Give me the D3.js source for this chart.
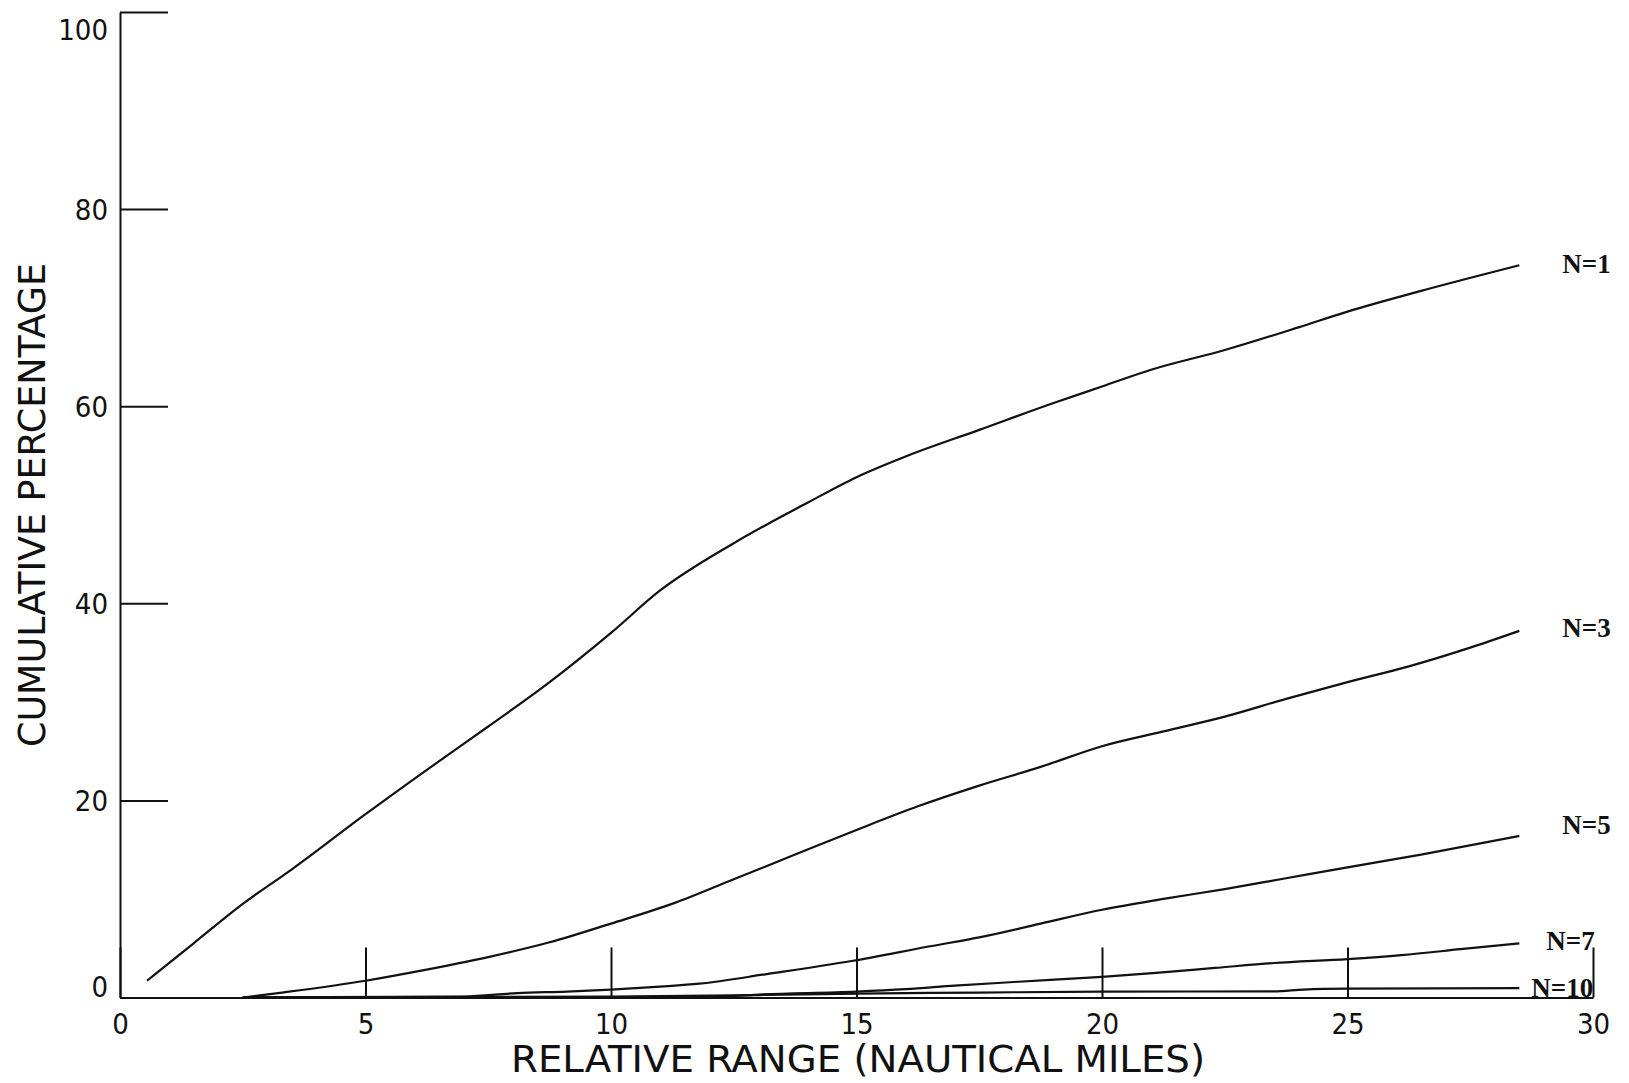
<!DOCTYPE html>
<html>
<head>
<meta charset="utf-8">
<script src="https://cdn.jsdelivr.net/npm/d3@7"></script>
<style>
  html, body { margin: 0; padding: 0; background: #fff; }
  svg { display: block; }
</style>
</head>
<body>
<svg id="chart" width="1629" height="1083"></svg>
<script>
// ---- data ----
const xTickValues = [0, 5, 10, 15, 20, 25, 30];
const yTickValues = [0, 20, 40, 60, 80, 100];
const seriesNames = ["N=1", "N=3", "N=5", "N=7", "N=10"];

const n1 = [[0.55,1.7],[1.5,5.5],[2.5,9.5],[3.5,13.0],[5,18.6],[6.25,23.1],[7.5,27.5],[8.75,32.0],[10,37.0],[11,41.3],[12.5,46.1],[14,50.2],[15,52.8],[16,54.9],[17.5,57.6],[19,60.3],[20,62.0],[21,63.7],[22.5,65.7],[24,68.0],[25,69.6],[26.5,71.7],[28.5,74.3]];
const n3 = [[2.5,0],[3.3,0.5],[5,1.7],[6,2.6],[7.5,4.1],[8.75,5.6],[10,7.5],[11.3,9.6],[12.5,12.0],[13.75,14.5],[15,17.0],[16.25,19.4],[17.5,21.5],[18.75,23.4],[20,25.5],[21.25,27.0],[22.5,28.5],[23.75,30.3],[25,32.0],[26.25,33.6],[27.5,35.5],[28.5,37.2]];
const n5 = [[2.5,0],[7.0,0.1],[8.1,0.45],[9.1,0.6],[10,0.8],[11,1.1],[11.8,1.4],[13.2,2.4],[14.9,3.7],[16.5,5.2],[17.5,6.1],[18.75,7.5],[20,8.9],[21.25,10.0],[22.5,11.0],[23.75,12.1],[25,13.2],[26.5,14.5],[28.5,16.4]];
const n7 = [[2.5,0],[12,0.05],[13,0.3],[15,0.6],[16,0.85],[17,1.2],[18.3,1.6],[20,2.1],[21.1,2.5],[22.3,3.0],[23.5,3.5],[25,3.9],[26.1,4.3],[27.3,4.9],[28.5,5.5]];
const n10 = [[2.5,0],[10,0.1],[13,0.25],[15,0.4],[17.5,0.5],[20,0.6],[23.5,0.62],[24.1,0.8],[25,0.9],[28.5,0.95]];
const seriesData = [n1, n3, n5, n7, n10];

const xTitle = "RELATIVE RANGE (NAUTICAL MILES)";
const yTitle = "CUMULATIVE PERCENTAGE";

// ---- styles / layout ----
const labelOffsets = [[43, 8], [43, 6], [43, -2], [27, 7], [12, 9]];
const tickFont = "'DejaVu Sans Condensed', 'Liberation Sans Narrow', sans-serif";

const svg = d3.select("#chart");
svg.append("rect").attr("width", 1629).attr("height", 1083).attr("fill", "#fff");

const x = d3.scaleLinear().domain([0, 30]).range([120, 1593]);
const y = d3.scaleLinear().domain([0, 100]).range([997.5, 12]);

// y axis
const yAxis = d3.axisLeft(y).tickValues(yTickValues).tickSizeInner(-48).tickSizeOuter(0).tickPadding(12).tickFormat(d3.format("d"));
const gy = svg.append("g").attr("transform", `translate(${x(0)},0)`).call(yAxis);
gy.selectAll("text")
  .attr("font-family", tickFont).attr("font-size", 29).attr("fill", "#111")
  .attr("dy", d => d === 100 ? "0.95em" : (d === 0 ? "-0.05em" : "0.36em"));

// x axis
const xAxis = d3.axisBottom(x).tickValues(xTickValues).tickSizeInner(-50).tickSizeOuter(0).tickPadding(16).tickFormat(d3.format("d"));
const gx = svg.append("g").attr("transform", `translate(0,${y(0)})`).call(xAxis);
gx.selectAll("text")
  .attr("font-family", tickFont).attr("font-size", 29).attr("fill", "#111");

svg.selectAll(".domain, .tick line").attr("stroke", "#111").attr("stroke-width", 2);

// curves
const line = d3.line().x(d => x(d[0])).y(d => y(d[1])).curve(d3.curveMonotoneX);
svg.append("g").selectAll("path").data(seriesData).join("path")
  .attr("d", line)
  .attr("fill", "none")
  .attr("stroke", "#111")
  .attr("stroke-width", 2.2);

// curve labels
svg.append("g").selectAll("text").data(seriesData).join("text")
  .attr("x", (d, i) => x(d[d.length - 1][0]) + labelOffsets[i][0])
  .attr("y", (d, i) => y(d[d.length - 1][1]) + labelOffsets[i][1])
  .attr("font-family", "'Liberation Serif', 'DejaVu Serif', serif")
  .attr("font-size", 27)
  .attr("font-weight", "bold")
  .attr("fill", "#111")
  .text((d, i) => seriesNames[i]);

// axis titles
svg.append("text")
  .attr("x", 858).attr("y", 1072)
  .attr("text-anchor", "middle")
  .attr("font-family", tickFont).attr("font-size", 37).attr("fill", "#111")
  .attr("textLength", 694).attr("lengthAdjust", "spacingAndGlyphs")
  .text(xTitle);

svg.append("text")
  .attr("transform", "translate(45,505) rotate(-90)")
  .attr("text-anchor", "middle")
  .attr("font-family", tickFont).attr("font-size", 37).attr("fill", "#111")
  .attr("textLength", 484).attr("lengthAdjust", "spacingAndGlyphs")
  .text(yTitle);
</script>
</body>
</html>
